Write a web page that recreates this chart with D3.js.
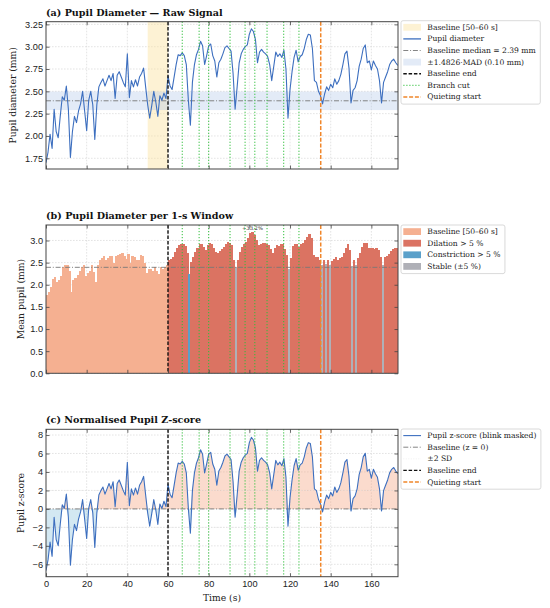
<!DOCTYPE html>
<html>
<head>
<meta charset="utf-8">
<script src="https://cdn.jsdelivr.net/npm/d3@7"></script>
<style>
  body { margin: 0; background: #fff; }
  svg { display: block; }
</style>
</head>
<body>
<svg id="chart" width="550" height="608"></svg>
<script>
// raw pupil diameter (mm), sampled once per second, t = 0..173 s
const diameterMm = [
  1.70, 1.82, 2.02, 1.86, 2.30, 2.05, 1.98, 2.22, 2.44, 2.40,
  2.56, 2.30, 1.76, 2.05, 2.22, 2.15, 2.28, 2.36, 2.50, 2.28,
  2.06, 2.40, 2.50, 2.35, 1.96, 2.35, 2.55, 2.60, 2.64, 2.56,
  2.62, 2.68, 2.62, 2.70, 2.42, 2.68, 2.72, 2.66, 2.60, 2.55,
  2.92, 2.43, 2.62, 2.55, 2.63, 2.56, 2.66, 2.70, 2.76, 2.55,
  2.35, 2.20, 2.34, 2.50, 2.38, 2.22, 2.45, 2.40, 2.48, 2.42,
  2.67, 2.56, 2.52, 2.66, 2.80, 2.91, 2.90, 2.93, 2.90, 2.80,
  2.40, 2.12, 2.60, 2.80, 2.91, 2.97, 3.06, 3.01, 2.80, 2.90,
  3.01, 3.03, 2.90, 2.84, 2.66, 2.82, 2.86, 2.92, 2.99, 3.01,
  2.98, 2.95, 2.70, 2.30, 2.55, 2.82, 2.92, 2.97, 3.00, 3.02,
  3.14, 3.20, 3.17, 3.08, 2.82, 2.94, 2.97, 2.94, 2.92, 2.89,
  2.80, 2.62, 2.78, 2.94, 2.89, 2.92, 2.88, 2.96, 2.75, 2.20,
  2.52, 2.72, 2.88, 2.96, 2.83, 2.89, 2.91, 2.98, 3.08, 3.14,
  3.13, 2.98, 2.62, 2.60, 2.50, 2.45, 2.36, 2.47, 2.55, 2.51,
  2.58, 2.54, 2.64, 2.58, 2.62, 2.69, 2.80, 2.92, 2.95, 2.76,
  2.37, 2.51, 2.54, 2.62, 2.78, 2.86, 2.98, 3.02, 2.82, 2.84,
  2.74, 2.84, 2.79, 2.75, 2.62, 2.37, 2.60, 2.66, 2.72, 2.80,
  2.84, 2.86, 2.82, 2.79
];

// mean pupil per 1-s window, windows starting at 0..172 s
const windowMeanMm = [
  1.76, 1.84, 1.96, 2.13, 2.17, 2.06, 2.10, 2.20, 2.40, 2.45,
  2.44, 2.30, 1.83, 2.10, 2.16, 2.22, 2.30, 2.40, 2.45, 2.20,
  2.26, 2.30, 2.44, 2.28, 2.06, 2.44, 2.55, 2.60, 2.64, 2.56,
  2.60, 2.64, 2.66, 2.50, 2.64, 2.68, 2.70, 2.72, 2.65, 2.58,
  2.70, 2.50, 2.64, 2.62, 2.55, 2.56, 2.68, 2.65, 2.50, 2.26,
  2.35, 2.36, 2.30, 2.40, 2.30, 2.25, 2.40, 2.35, 2.40, 2.45,
  2.55, 2.59, 2.63, 2.74, 2.82, 2.90, 2.93, 2.92, 2.87, 2.71,
  2.24, 2.52, 2.63, 2.74, 2.82, 2.92, 2.93, 2.86, 2.78, 2.90,
  2.95, 2.92, 2.82, 2.74, 2.71, 2.77, 2.80, 2.86, 2.93, 2.97,
  2.95, 2.90, 2.55, 2.40, 2.55, 2.74, 2.86, 2.93, 2.97, 3.05,
  3.16, 3.19, 3.12, 3.01, 2.90, 2.92, 2.95, 2.94, 2.92, 2.90,
  2.80, 2.72, 2.82, 2.90, 2.88, 2.92, 2.93, 2.80, 2.68, 2.35,
  2.61, 2.87, 2.93, 2.92, 2.86, 2.92, 2.95, 3.01, 3.08, 3.14,
  3.05, 2.67, 2.63, 2.63, 2.55, 2.44, 2.55, 2.46, 2.57, 2.45,
  2.54, 2.59, 2.62, 2.57, 2.60, 2.63, 2.72, 2.82, 2.92, 2.78,
  2.42, 2.55, 2.45, 2.60, 2.72, 2.85, 2.95, 2.95, 2.83, 2.83,
  2.83, 2.80, 2.84, 2.78, 2.62, 2.45, 2.62, 2.66, 2.70, 2.76,
  2.80, 2.82, 2.82
];

const branchCuts = [67.0, 75.3, 80.0, 90.5, 97.9, 102.7, 108.7, 116.9, 124.4];
const BASELINE_START = 50;
const BASELINE_END = 60;
const QUIETING_START = 135.1;
const BASELINE_MEDIAN = 2.394;
const MAD_SCALED = 0.104;   // 1.4826 * MAD
const CHANGE_THRESHOLD = 0.05;

const timeTicks = [0, 20, 40, 60, 80, 100, 120, 140, 160];
const diameterTicks = [1.75, 2.00, 2.25, 2.50, 2.75, 3.00, 3.25];
const meanTicks = [0.0, 0.5, 1.0, 1.5, 2.0, 2.5, 3.0];
const zTicks = [-6, -4, -2, 0, 2, 4, 6, 8];

const COL = {
  line: "#3d6fbf",
  median: "#777",
  band: "#aec7e8",
  span: "#fbe3a0",
  baseEnd: "#111",
  branch: "#2fbf3a",
  quiet: "#f0862a",
  barBase: "#f4a582",
  dilation: "#d6604d",
  constriction: "#4393c3",
  stable: "#a4a5ad",
  pos: "#f4a582",
  neg: "#92c5de",
  frame: "#444",
  grid: "#d2d2d2"
};
const FONT = "DejaVu Serif, serif";
const BAR_ALPHA = 0.88;
const onWhite = (c) => d3.interpolateRgb("#fff", c)(BAR_ALPHA);

const svg = d3.select("#chart");
const x = d3.scaleLinear().domain([0, 173.1]).range([46, 398]);

const zScores = diameterMm.map((d) => (d - BASELINE_MEDIAN) / MAD_SCALED);

function panel(id, top, bottom, domain, yTicks, fmt, title, yLabel, yLabelX, showX) {
  const y = d3.scaleLinear().domain(domain).range([bottom, top]);
  const g = svg.append("g");
  svg.append("clipPath").attr("id", "clip-" + id)
    .append("rect").attr("x", x.range()[0]).attr("y", top)
    .attr("width", x.range()[1] - x.range()[0]).attr("height", bottom - top);

  const grid = g.append("g").attr("stroke", COL.grid).attr("stroke-width", 0.6).attr("stroke-dasharray", "1.6,1.4");
  grid.selectAll(".gx").data(timeTicks.filter((t) => t > 0)).join("line")
    .attr("x1", (d) => x(d)).attr("x2", (d) => x(d)).attr("y1", top).attr("y2", bottom);
  grid.selectAll(".gy").data(yTicks).join("line")
    .attr("x1", x.range()[0]).attr("x2", x.range()[1]).attr("y1", (d) => y(d)).attr("y2", (d) => y(d));

  const plot = g.append("g").attr("clip-path", `url(#clip-${id})`);
  const over = g.append("g");

  g.append("text").attr("x", x.range()[0]).attr("y", top - 6)
    .attr("font-family", FONT).attr("font-weight", "bold").attr("font-size", 9.6)
    .attr("fill", "#111").text(title);

  g.append("text").attr("transform", `translate(${yLabelX},${(top + bottom) / 2}) rotate(-90)`)
    .attr("text-anchor", "middle").attr("dominant-baseline", "central")
    .attr("font-family", FONT).attr("font-size", 9.2).attr("fill", "#222").text(yLabel);

  return { y, g, plot, over, top, bottom, fmt, yTicks, showX };
}

function finishAxes(p) {
  const { y, g, top, bottom } = p;
  const ax = g.append("g").attr("font-family", FONT);
  ax.append("g").attr("transform", `translate(${x.range()[0]},0)`)
    .call(d3.axisLeft(y).tickValues(p.yTicks).tickFormat(p.fmt).tickSize(-3.5).tickPadding(3));
  ax.append("g").attr("transform", `translate(${x.range()[1]},0)`)
    .call(d3.axisRight(y).tickValues(p.yTicks).tickFormat("").tickSize(-3.5));
  ax.append("g").attr("transform", `translate(0,${bottom})`)
    .call(d3.axisBottom(x).tickValues(timeTicks).tickFormat(p.showX ? d3.format("d") : "").tickSize(-3.5).tickPadding(4));
  ax.append("g").attr("transform", `translate(0,${top})`)
    .call(d3.axisTop(x).tickValues(timeTicks).tickFormat("").tickSize(-3.5));
  ax.selectAll(".domain").remove();
  ax.selectAll(".tick line").attr("stroke", COL.frame).attr("stroke-width", 0.8);
  ax.selectAll(".tick text").attr("font-size", 9.2).attr("fill", "#222");
  g.append("rect").attr("x", x.range()[0]).attr("y", top)
    .attr("width", x.range()[1] - x.range()[0]).attr("height", bottom - top)
    .attr("fill", "none").attr("stroke", COL.frame).attr("stroke-width", 1);
}

function vline(p, t, color, dash, width) {
  p.over.append("line").attr("x1", x(t)).attr("x2", x(t)).attr("y1", p.top).attr("y2", p.bottom)
    .attr("stroke", color).attr("stroke-width", width).attr("stroke-dasharray", dash);
}

function eventLines(p) {
  branchCuts.forEach((t) => vline(p, t, COL.branch, "1.2,1.8", 1));
  vline(p, BASELINE_END, COL.baseEnd, "3.5,1.8", 1.4);
  vline(p, QUIETING_START, COL.quiet, "4,1.8", 1.5);
}

function legend(top, items) {
  const lx = 401, rowH = 11.6, pad = 6.6;
  const g = svg.append("g");
  const box = g.append("rect").attr("x", lx).attr("y", top).attr("rx", 2)
    .attr("height", pad * 2 + rowH * (items.length - 1) + 0.6)
    .attr("fill", "#fff").attr("fill-opacity", 0.9).attr("stroke", "#cfcfcf").attr("stroke-width", 0.8);
  let maxW = 0;
  items.forEach((it, i) => {
    const cy = top + pad + i * rowH;
    if (it.type === "patch") {
      g.append("rect").attr("x", lx + 2.3).attr("y", cy - 3.4).attr("width", 17.7).attr("height", 6.8)
        .attr("fill", it.color).attr("fill-opacity", it.opacity);
    } else {
      g.append("line").attr("x1", lx + 2.3).attr("x2", lx + 20).attr("y1", cy).attr("y2", cy)
        .attr("stroke", it.color).attr("stroke-width", it.width).attr("stroke-dasharray", it.dash || null);
    }
    const t = g.append("text").attr("x", lx + 26.3).attr("y", cy).attr("dominant-baseline", "central")
      .attr("font-family", FONT).attr("font-size", 7.6).attr("fill", "#222").text(it.label);
    maxW = Math.max(maxW, t.node().getComputedTextLength());
  });
  box.attr("width", 26.3 + maxW + 4.5);
}

// (a) raw signal
const pa = panel("a", 21.7, 169, [1.63, 3.28], diameterTicks, d3.format(".2f"),
  "(a) Pupil Diameter \u2014 Raw Signal", "Pupil diameter (mm)", 12.5, false);
pa.plot.append("rect").attr("x", x(BASELINE_START)).attr("width", x(BASELINE_END) - x(BASELINE_START))
  .attr("y", pa.top).attr("height", pa.bottom - pa.top).attr("fill", COL.span).attr("fill-opacity", 0.45);
pa.plot.append("rect").attr("x", x.range()[0]).attr("width", x.range()[1] - x.range()[0])
  .attr("y", pa.y(BASELINE_MEDIAN + MAD_SCALED))
  .attr("height", pa.y(BASELINE_MEDIAN - MAD_SCALED) - pa.y(BASELINE_MEDIAN + MAD_SCALED))
  .attr("fill", COL.band).attr("fill-opacity", 0.35);
pa.plot.append("line").attr("x1", x.range()[0]).attr("x2", x.range()[1])
  .attr("y1", pa.y(BASELINE_MEDIAN)).attr("y2", pa.y(BASELINE_MEDIAN))
  .attr("stroke", COL.median).attr("stroke-width", 0.9).attr("stroke-dasharray", "5,1.8,1,1.8");
pa.plot.append("path").datum(diameterMm)
  .attr("d", d3.line().x((d, i) => x(i)).y((d) => pa.y(d)))
  .attr("fill", "none").attr("stroke", COL.line).attr("stroke-width", 1.1).attr("stroke-linejoin", "round");
eventLines(pa);
finishAxes(pa);

// (b) per-window means
const pb = panel("b", 225, 373.3, [0, 3.35], meanTicks, d3.format(".1f"),
  "(b) Pupil Diameter per 1-s Window", "Mean pupil (mm)", 20, false);
function barColor(v, i) {
  if (i < BASELINE_END) return COL.barBase;
  const change = (v - BASELINE_MEDIAN) / BASELINE_MEDIAN;
  if (change > CHANGE_THRESHOLD) return COL.dilation;
  if (change < -CHANGE_THRESHOLD) return COL.constriction;
  return COL.stable;
}
pb.plot.append("g").attr("shape-rendering", "crispEdges")
  .selectAll("rect").data(windowMeanMm).join("rect")
  .attr("x", (d, i) => x(i)).attr("width", (d, i) => x(i + 1) - x(i) + 0.3)
  .attr("y", (d) => pb.y(d)).attr("height", (d) => pb.y(0) - pb.y(d))
  .attr("fill", (d, i) => onWhite(barColor(d, i)));
pb.plot.append("line").attr("x1", x.range()[0]).attr("x2", x.range()[1])
  .attr("y1", pb.y(BASELINE_MEDIAN)).attr("y2", pb.y(BASELINE_MEDIAN))
  .attr("stroke", COL.median).attr("stroke-width", 0.9).attr("stroke-dasharray", "5,1.8,1,1.8");
const peakIdx = d3.maxIndex(windowMeanMm);
const peakPct = (windowMeanMm[peakIdx] - BASELINE_MEDIAN) / BASELINE_MEDIAN * 100;
pb.over.append("text").attr("x", x(peakIdx + 0.5)).attr("y", pb.y(windowMeanMm[peakIdx]) - 2.2)
  .attr("text-anchor", "middle").attr("font-family", FONT).attr("font-size", 5.2).attr("fill", "#222")
  .text("+" + peakPct.toFixed(1) + "%");
eventLines(pb);
finishAxes(pb);

// (c) z-score
const pc = panel("c", 429.3, 576.7, [-7.34, 8.62], zTicks, (d) => d3.format("d")(d).replace("-", "\u2212"),
  "(c) Normalised Pupil Z-score", "Pupil z-score", 20.7, true);
pc.plot.append("path").datum(zScores)
  .attr("d", d3.area().x((d, i) => x(i)).y0(pc.y(0)).y1((d) => pc.y(Math.max(d, 0))))
  .attr("fill", COL.pos).attr("fill-opacity", 0.4);
pc.plot.append("path").datum(zScores)
  .attr("d", d3.area().x((d, i) => x(i)).y0(pc.y(0)).y1((d) => pc.y(Math.min(d, 0))))
  .attr("fill", COL.neg).attr("fill-opacity", 0.4);
[-2, 2].forEach((v) => pc.plot.append("line").attr("x1", x.range()[0]).attr("x2", x.range()[1])
  .attr("y1", pc.y(v)).attr("y2", pc.y(v)).attr("stroke", "#e4e4e4").attr("stroke-width", 0.6)
  .attr("stroke-dasharray", "1,1.5"));
pc.plot.append("line").attr("x1", x.range()[0]).attr("x2", x.range()[1])
  .attr("y1", pc.y(0)).attr("y2", pc.y(0))
  .attr("stroke", COL.median).attr("stroke-width", 0.9).attr("stroke-dasharray", "5,1.8,1,1.8");
pc.plot.append("path").datum(zScores)
  .attr("d", d3.line().x((d, i) => x(i)).y((d) => pc.y(d)))
  .attr("fill", "none").attr("stroke", COL.line).attr("stroke-width", 1.1).attr("stroke-linejoin", "round");
eventLines(pc);
finishAxes(pc);
svg.append("text").attr("x", (x.range()[0] + x.range()[1]) / 2).attr("y", 597)
  .attr("text-anchor", "middle").attr("dominant-baseline", "central")
  .attr("font-family", FONT).attr("font-size", 9.2).attr("fill", "#222").text("Time (s)");

// legends
legend(20.7, [
  { type: "patch", color: COL.span, opacity: 0.45, label: "Baseline [50\u201360 s]" },
  { type: "line", color: COL.line, width: 1.3, label: "Pupil diameter" },
  { type: "line", color: COL.median, width: 0.9, dash: "5,1.8,1,1.8", label: "Baseline median = 2.39 mm" },
  { type: "patch", color: COL.band, opacity: 0.35, label: "\u00b11.4826\u00b7MAD (0.10 mm)" },
  { type: "line", color: COL.baseEnd, width: 1.4, dash: "3.5,1.8", label: "Baseline end" },
  { type: "line", color: COL.branch, width: 1, dash: "1.2,1.8", label: "Branch cut" },
  { type: "line", color: COL.quiet, width: 1.5, dash: "4,1.8", label: "Quieting start" }
]);
legend(225, [
  { type: "patch", color: COL.barBase, opacity: BAR_ALPHA, label: "Baseline [50\u201360 s]" },
  { type: "patch", color: COL.dilation, opacity: BAR_ALPHA, label: "Dilation > 5 %" },
  { type: "patch", color: COL.constriction, opacity: BAR_ALPHA, label: "Constriction > 5 %" },
  { type: "patch", color: COL.stable, opacity: BAR_ALPHA, label: "Stable (\u00b15 %)" }
]);
legend(429, [
  { type: "line", color: COL.line, width: 1.1, label: "Pupil z-score (blink masked)" },
  { type: "line", color: COL.median, width: 0.9, dash: "5,1.8,1,1.8", label: "Baseline (z = 0)" },
  { type: "line", color: "#e8e8e8", width: 0.6, dash: "1,1.5", label: "\u00b12 SD" },
  { type: "line", color: COL.baseEnd, width: 1.4, dash: "3.5,1.8", label: "Baseline end" },
  { type: "line", color: COL.quiet, width: 1.5, dash: "4,1.8", label: "Quieting start" }
]);
</script>
</body>
</html>
